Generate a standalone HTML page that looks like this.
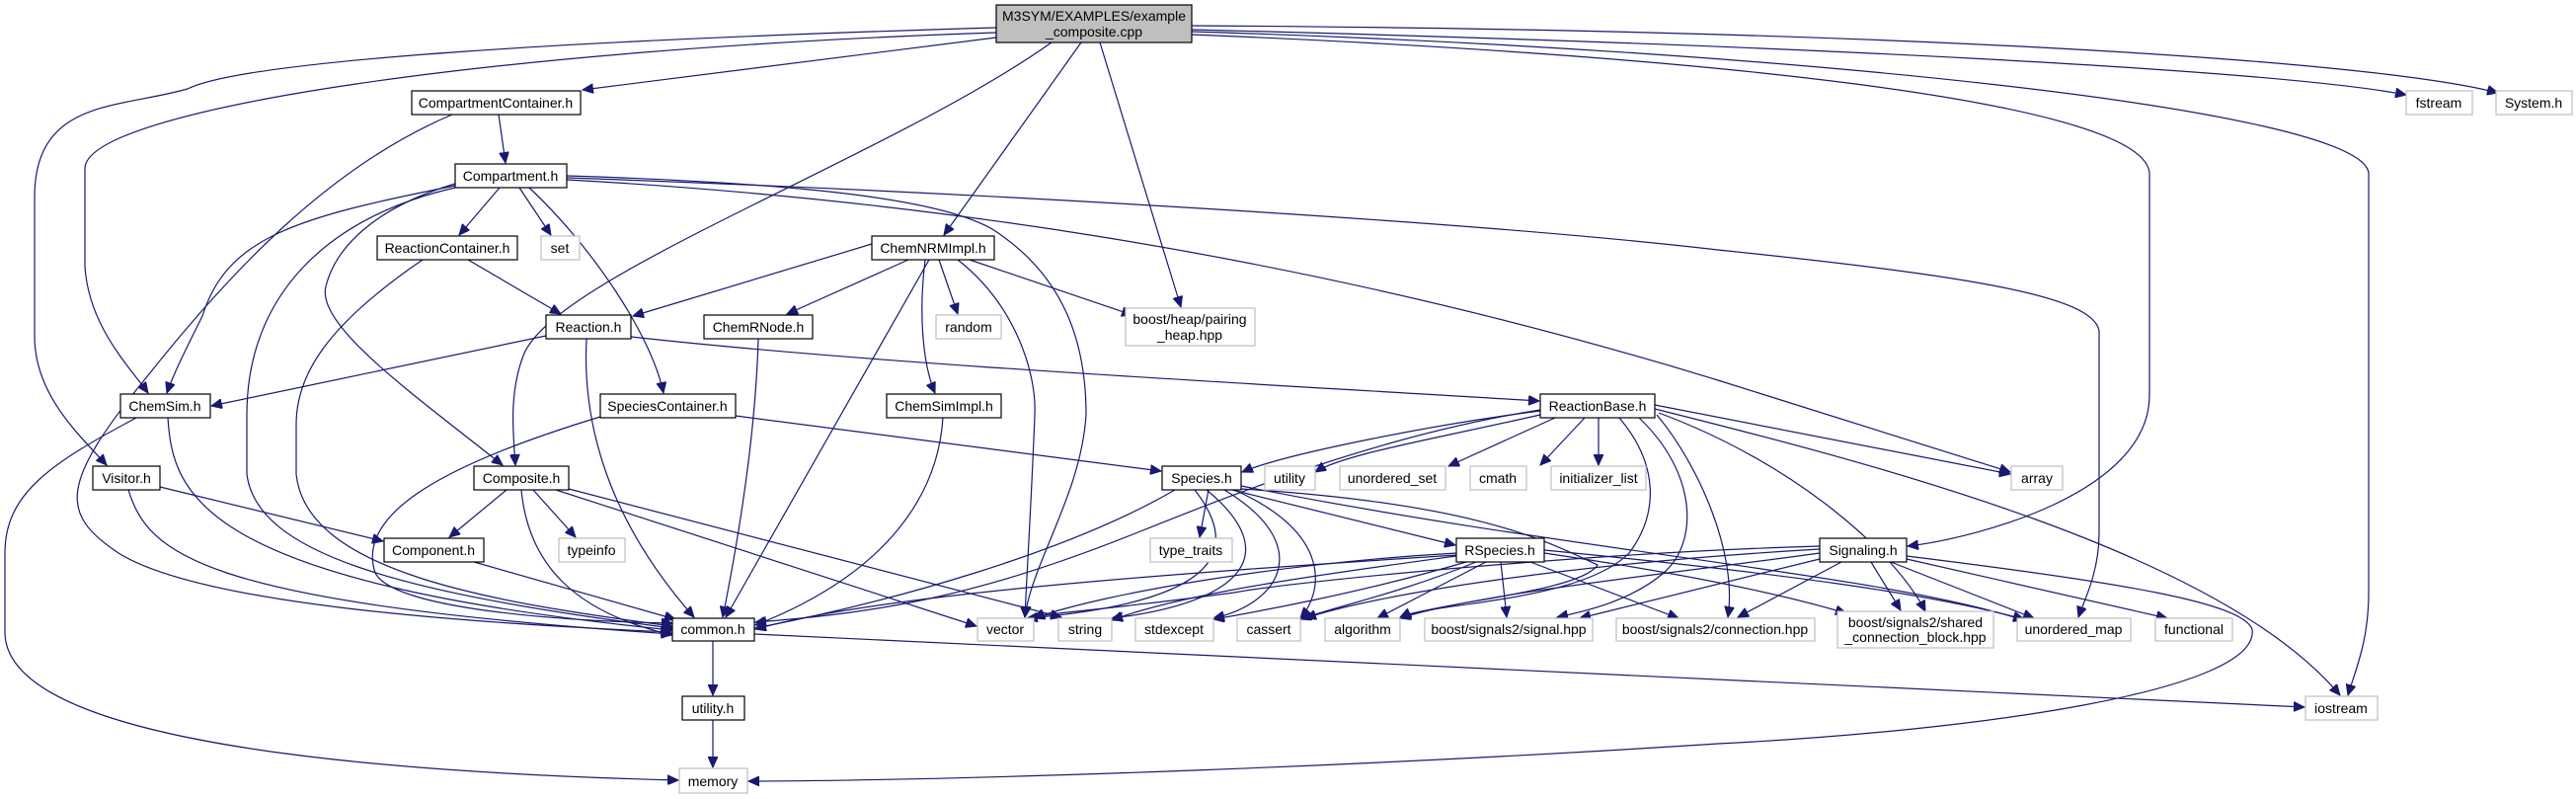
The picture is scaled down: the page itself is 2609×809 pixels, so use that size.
<!DOCTYPE html>
<html><head><meta charset="utf-8"><style>
html,body{margin:0;padding:0;background:#fff;}
svg{display:block;}
text{font-family:"Liberation Sans",sans-serif;font-size:14px;fill:#000;}
path{fill:none;stroke:#191970;stroke-width:1.2;}
</style></head><body>
<svg width="2609" height="809" viewBox="0 0 2609 809" xmlns="http://www.w3.org/2000/svg">
<defs>
<marker id="a" markerUnits="userSpaceOnUse" markerWidth="12" markerHeight="10" refX="11" refY="5" orient="auto">
<path d="M0,0 L11,5 L0,10 Z" style="fill:#191970;stroke:#191970;stroke-width:1"/>
</marker>
</defs>
<g marker-end="url(#a)">
<!-- top node edges -->
<path d="M1009,28 C600,40 250,60 190,90 C120,110 35,100 35,200 L35,340 C35,400 80,440 108,471"/>
<path d="M1009,33 C500,50 90,110 86,170 L86,270 C90,330 130,370 150,398"/>
<path d="M1009,38 L590,91"/>
<path d="M1065,43 C900,160 560,280 530,360 C515,400 520,440 522,471"/>
<path d="M1095,43 L956,238"/>
<path d="M1114,43 L1196,311"/>
<path d="M1207,30 C1800,45 2300,70 2437,96"/>
<path d="M1207,26 C1900,30 2400,60 2530,94"/>
<path d="M1207,35 C1700,55 2170,100 2177,175 L2177,400 C2177,500 2000,545 1932,553"/>
<path d="M1207,32 C1800,50 2390,110 2399,175 L2399,600 C2399,650 2385,680 2378,704"/>
<!-- CompartmentContainer -->
<path d="M505,116 L512,165"/>
<path d="M458,116 C330,170 230,280 150,380 C60,490 60,520 120,560 C200,610 450,630 680,640"/>
<!-- Compartment -->
<path d="M506,190 L465,238"/>
<path d="M526,190 L558,238"/>
<path d="M536,190 C600,250 660,340 672,398"/>
<path d="M461,186 C380,210 340,250 330,290 C320,330 420,400 509,471"/>
<path d="M461,188 C300,220 230,240 205,320 C190,350 175,380 169,398"/>
<path d="M461,190 C330,220 250,300 250,420 L250,480 C260,560 400,600 681,636"/>
<path d="M574,178 C800,185 950,200 1005,232 C1080,280 1100,350 1100,420 C1095,500 1045,570 1038,625"/>
<path d="M574,182 C900,200 1300,250 1740,385 C1850,420 1950,450 2036,478"/>
<path d="M574,180 C1000,195 1500,225 1740,253 C2000,280 2120,300 2126,335 L2126,540 C2126,580 2110,610 2105,625"/>
<!-- ReactionContainer -->
<path d="M474,263 L568,318"/>
<path d="M428,263 C330,330 300,380 300,430 L300,480 C310,580 500,610 681,634"/>
<!-- Reaction -->
<path d="M553,340 L214,411"/>
<path d="M594,343 C590,420 610,520 703,625"/>
<path d="M639,341 C900,370 1300,390 1559,406"/>
<!-- ChemNRMImpl -->
<path d="M883,247 L641,320"/>
<path d="M920,263 L797,318"/>
<path d="M951,263 L970,318"/>
<path d="M982,263 L1147,319"/>
<path d="M937,263 C930,320 935,370 947,398"/>
<path d="M941,263 L735,625"/>
<path d="M970,263 C1030,310 1050,380 1048,420 C1045,500 1040,580 1038,625"/>
<!-- ChemRNode -->
<path d="M768,343 C765,450 745,560 732,625"/>
<!-- ChemSimImpl -->
<path d="M955,423 C950,500 900,580 765,633"/>
<!-- ChemSim -->
<path d="M170,423 C175,500 200,590 681,638"/>
<path d="M138,423 C50,470 5,500 5,560 L5,640 C5,740 300,780 687,790"/>
<!-- Visitor -->
<path d="M130,496 C150,560 200,610 681,642"/>
<path d="M162,493 L388,548"/>
<!-- Composite -->
<path d="M513,496 L455,544"/>
<path d="M540,496 L583,544"/>
<path d="M528,496 C535,570 580,620 681,643"/>
<path d="M576,495 L1075,625"/>
<path d="M563,496 L989,634"/>
<!-- Component -->
<path d="M480,569 L684,627"/>
<!-- SpeciesContainer -->
<path d="M608,422 C450,470 360,520 380,580 C400,620 600,630 681,631"/>
<path d="M745,421 L1176,477"/>
<!-- common / utility -->
<path d="M722,649 L722,704"/>
<path d="M764,642 L2334,716"/>
<path d="M722,729 L722,777"/>
<!-- Signaling -> memory -->
<path d="M1931,563 C2150,590 2270,610 2281,637 C2290,700 2000,740 1740,753 C1400,775 1000,790 758,791"/>
<!-- ReactionBase -->
<path d="M1560,416 C1450,430 1300,460 1258,478"/>
<path d="M1560,420 C1450,445 1360,460 1332,478"/>
<path d="M1575,423 L1467,472"/>
<path d="M1605,423 L1560,471"/>
<path d="M1619,423 L1619,471"/>
<path d="M1676,410 L2036,480"/>
<path d="M1676,414 C1900,470 2250,560 2370,704"/>
<path d="M1560,415 C1400,440 1250,500 1150,540 C1000,600 900,620 765,630"/>
<path d="M1640,423 C1680,470 1680,520 1650,560 C1600,610 1450,610 1418,625"/>
<path d="M1660,423 C1720,480 1720,550 1685,580 C1650,610 1600,620 1577,625"/>
<path d="M1678,420 C1720,470 1760,560 1750,625"/>
<path d="M1680,418 C1820,470 1920,560 1950,619"/>
<!-- Species -->
<path d="M1224,496 L1215,544"/>
<path d="M1248,496 L1474,552"/>
<path d="M1190,496 C1080,560 900,610 765,636"/>
<path d="M1210,496 C1260,560 1230,610 1040,626"/>
<path d="M1222,496 C1300,560 1260,610 1126,626"/>
<path d="M1240,496 C1330,550 1300,610 1229,626"/>
<path d="M1250,496 C1350,540 1340,600 1317,626"/>
<path d="M1257,495 C1500,510 1570,550 1618,572 C1600,600 1450,610 1418,626"/>
<path d="M1257,492 C1600,560 1900,580 2050,628"/>
<!-- RSpecies -->
<path d="M1475,562 C1200,580 900,600 765,637"/>
<path d="M1475,560 C1300,570 1120,600 1047,626"/>
<path d="M1475,563 C1350,580 1200,600 1126,628"/>
<path d="M1485,569 C1380,600 1270,620 1229,627"/>
<path d="M1495,569 C1420,600 1350,615 1317,627"/>
<path d="M1505,569 L1395,626"/>
<path d="M1520,569 L1526,625"/>
<path d="M1550,569 L1700,626"/>
<path d="M1564,560 C1700,580 1800,600 1870,621"/>
<path d="M1564,557 C1800,580 1950,600 2050,627"/>
<!-- Signaling -->
<path d="M1843,553 C1600,560 1300,590 1250,600 C1100,620 1060,620 1047,626"/>
<path d="M1843,556 C1600,570 1400,600 1322,626"/>
<path d="M1843,560 C1700,580 1500,600 1418,626"/>
<path d="M1843,566 L1600,626"/>
<path d="M1865,569 L1760,625"/>
<path d="M1895,569 L1925,618"/>
<path d="M1915,569 L2060,626"/>
<path d="M1931,566 L2195,626"/>
</g>
<!-- nodes -->
<g stroke-width="1.2">
<rect x="1009" y="5" width="198" height="38" fill="#bfbfbf" stroke="#000"/>
<rect x="417" y="92" width="171" height="24" fill="#fff" stroke="#000"/>
<rect x="461" y="166" width="113" height="24" fill="#fff" stroke="#000"/>
<rect x="382" y="239" width="142" height="24" fill="#fff" stroke="#000"/>
<rect x="548" y="239" width="39" height="24" fill="#fff" stroke="#bfbfbf"/>
<rect x="883" y="239" width="124" height="24" fill="#fff" stroke="#000"/>
<rect x="553" y="319" width="86" height="24" fill="#fff" stroke="#000"/>
<rect x="713" y="319" width="110" height="24" fill="#fff" stroke="#000"/>
<rect x="948" y="319" width="66" height="24" fill="#fff" stroke="#bfbfbf"/>
<rect x="1140" y="312" width="131" height="38" fill="#fff" stroke="#bfbfbf"/>
<rect x="122" y="399" width="91" height="24" fill="#fff" stroke="#000"/>
<rect x="608" y="399" width="137" height="24" fill="#fff" stroke="#000"/>
<rect x="898" y="399" width="116" height="24" fill="#fff" stroke="#000"/>
<rect x="1560" y="399" width="116" height="24" fill="#fff" stroke="#000"/>
<rect x="2437" y="92" width="67" height="24" fill="#fff" stroke="#bfbfbf"/>
<rect x="2528" y="92" width="77" height="24" fill="#fff" stroke="#bfbfbf"/>
<rect x="94" y="472" width="68" height="24" fill="#fff" stroke="#000"/>
<rect x="480" y="472" width="96" height="24" fill="#fff" stroke="#000"/>
<rect x="1177" y="472" width="80" height="24" fill="#fff" stroke="#000"/>
<rect x="1281" y="472" width="51" height="24" fill="#fff" stroke="#bfbfbf"/>
<rect x="1357" y="472" width="107" height="24" fill="#fff" stroke="#bfbfbf"/>
<rect x="1489" y="472" width="57" height="24" fill="#fff" stroke="#bfbfbf"/>
<rect x="1571" y="472" width="96" height="24" fill="#fff" stroke="#bfbfbf"/>
<rect x="2037" y="472" width="52" height="24" fill="#fff" stroke="#bfbfbf"/>
<rect x="389" y="545" width="101" height="24" fill="#fff" stroke="#000"/>
<rect x="566" y="545" width="67" height="24" fill="#fff" stroke="#bfbfbf"/>
<rect x="1165" y="545" width="83" height="24" fill="#fff" stroke="#bfbfbf"/>
<rect x="1475" y="545" width="89" height="24" fill="#fff" stroke="#000"/>
<rect x="1843" y="545" width="88" height="24" fill="#fff" stroke="#000"/>
<rect x="681" y="626" width="83" height="23" fill="#fff" stroke="#000"/>
<rect x="990" y="626" width="57" height="23" fill="#fff" stroke="#bfbfbf"/>
<rect x="1072" y="626" width="54" height="23" fill="#fff" stroke="#bfbfbf"/>
<rect x="1150" y="626" width="79" height="23" fill="#fff" stroke="#bfbfbf"/>
<rect x="1253" y="626" width="64" height="23" fill="#fff" stroke="#bfbfbf"/>
<rect x="1342" y="626" width="76" height="23" fill="#fff" stroke="#bfbfbf"/>
<rect x="1443" y="626" width="170" height="23" fill="#fff" stroke="#bfbfbf"/>
<rect x="1637" y="626" width="201" height="23" fill="#fff" stroke="#bfbfbf"/>
<rect x="1861" y="619" width="158" height="37" fill="#fff" stroke="#bfbfbf"/>
<rect x="2043" y="626" width="115" height="23" fill="#fff" stroke="#bfbfbf"/>
<rect x="2183" y="626" width="78" height="23" fill="#fff" stroke="#bfbfbf"/>
<rect x="691" y="705" width="63" height="24" fill="#fff" stroke="#000"/>
<rect x="2335" y="705" width="73" height="24" fill="#fff" stroke="#bfbfbf"/>
<rect x="688" y="778" width="69" height="25" fill="#fff" stroke="#bfbfbf"/>
</g>
<g text-anchor="middle">
<text x="1108" y="21">M3SYM/EXAMPLES/example</text>
<text x="1108" y="37">_composite.cpp</text>
<text x="502" y="109">CompartmentContainer.h</text>
<text x="517" y="183">Compartment.h</text>
<text x="453" y="256">ReactionContainer.h</text>
<text x="567" y="256">set</text>
<text x="945" y="256">ChemNRMImpl.h</text>
<text x="596" y="336">Reaction.h</text>
<text x="768" y="336">ChemRNode.h</text>
<text x="981" y="336">random</text>
<text x="1205" y="328">boost/heap/pairing</text>
<text x="1205" y="344">_heap.hpp</text>
<text x="167" y="416">ChemSim.h</text>
<text x="676" y="416">SpeciesContainer.h</text>
<text x="956" y="416">ChemSimImpl.h</text>
<text x="1618" y="416">ReactionBase.h</text>
<text x="2470" y="109">fstream</text>
<text x="2566" y="109">System.h</text>
<text x="128" y="489">Visitor.h</text>
<text x="528" y="489">Composite.h</text>
<text x="1217" y="489">Species.h</text>
<text x="1306" y="489">utility</text>
<text x="1410" y="489">unordered_set</text>
<text x="1517" y="489">cmath</text>
<text x="1619" y="489">initializer_list</text>
<text x="2063" y="489">array</text>
<text x="439" y="562">Component.h</text>
<text x="599" y="562">typeinfo</text>
<text x="1206" y="562">type_traits</text>
<text x="1519" y="562">RSpecies.h</text>
<text x="1887" y="562">Signaling.h</text>
<text x="722" y="642">common.h</text>
<text x="1018" y="642">vector</text>
<text x="1099" y="642">string</text>
<text x="1189" y="642">stdexcept</text>
<text x="1285" y="642">cassert</text>
<text x="1380" y="642">algorithm</text>
<text x="1528" y="642">boost/signals2/signal.hpp</text>
<text x="1737" y="642">boost/signals2/connection.hpp</text>
<text x="1940" y="635">boost/signals2/shared</text>
<text x="1940" y="650">_connection_block.hpp</text>
<text x="2100" y="642">unordered_map</text>
<text x="2222" y="642">functional</text>
<text x="722" y="722">utility.h</text>
<text x="2371" y="722">iostream</text>
<text x="722" y="796">memory</text>
</g>
</svg>
</body></html>
